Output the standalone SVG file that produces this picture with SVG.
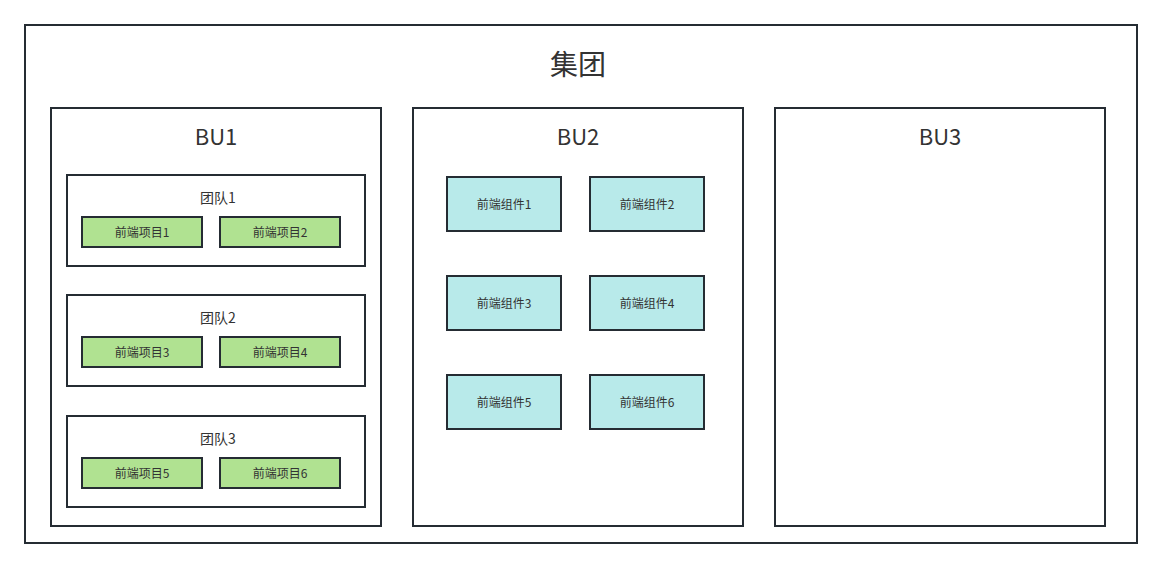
<svg xmlns="http://www.w3.org/2000/svg" width="1161" height="568" viewBox="0 0 1161 568">
<style>
.box{fill:#fff;stroke:#252c33;stroke-width:2}
.proj{fill:#b0e291;stroke:#252c33;stroke-width:2}
.comp{fill:#b8eaea;stroke:#252c33;stroke-width:2}
text{font-family:"Noto Sans CJK SC","Noto Sans",sans-serif;fill:#333;text-anchor:middle;dominant-baseline:central}
.t1{font-size:28px}
.t2{font-size:22px}
.t3{font-size:14px}
.t4{font-size:12px}
</style>
<rect width="1161" height="568" fill="#fff"/>
<g id="group">
<rect class="box" x="25" y="25" width="1112" height="518"/>
<text class="t1" x="578" y="63">集团</text>
</g>
<g id="bu1">
<rect class="box" x="51" y="108" width="330" height="418"/>
<text class="t2" x="216" y="135">BU1</text>
</g>
<g id="team1">
<rect class="box" x="67" y="175" width="298" height="91"/>
<text class="t3" x="218" y="197">团队1</text>
</g>
<g id="proj1"><rect class="proj" x="82" y="217" width="120" height="30"/><text class="t4" x="142" y="231">前端项目1</text></g>
<g id="proj2"><rect class="proj" x="220" y="217" width="120" height="30"/><text class="t4" x="280" y="231">前端项目2</text></g>
<g id="team2">
<rect class="box" x="67" y="295" width="298" height="91"/>
<text class="t3" x="218" y="317">团队2</text>
</g>
<g id="proj3"><rect class="proj" x="82" y="337" width="120" height="30"/><text class="t4" x="142" y="351">前端项目3</text></g>
<g id="proj4"><rect class="proj" x="220" y="337" width="120" height="30"/><text class="t4" x="280" y="351">前端项目4</text></g>
<g id="team3">
<rect class="box" x="67" y="416" width="298" height="91"/>
<text class="t3" x="218" y="438">团队3</text>
</g>
<g id="proj5"><rect class="proj" x="82" y="458" width="120" height="30"/><text class="t4" x="142" y="472">前端项目5</text></g>
<g id="proj6"><rect class="proj" x="220" y="458" width="120" height="30"/><text class="t4" x="280" y="472">前端项目6</text></g>
<g id="bu2">
<rect class="box" x="413" y="108" width="330" height="418"/>
<text class="t2" x="578" y="135">BU2</text>
</g>
<g id="comp1"><rect class="comp" x="447" y="177" width="114" height="54"/><text class="t4" x="504" y="203">前端组件1</text></g>
<g id="comp2"><rect class="comp" x="590" y="177" width="114" height="54"/><text class="t4" x="647" y="203">前端组件2</text></g>
<g id="comp3"><rect class="comp" x="447" y="276" width="114" height="54"/><text class="t4" x="504" y="302">前端组件3</text></g>
<g id="comp4"><rect class="comp" x="590" y="276" width="114" height="54"/><text class="t4" x="647" y="302">前端组件4</text></g>
<g id="comp5"><rect class="comp" x="447" y="375" width="114" height="54"/><text class="t4" x="504" y="401">前端组件5</text></g>
<g id="comp6"><rect class="comp" x="590" y="375" width="114" height="54"/><text class="t4" x="647" y="401">前端组件6</text></g>
<g id="bu3">
<rect class="box" x="775" y="108" width="330" height="418"/>
<text class="t2" x="940" y="135">BU3</text>
</g>
<g id="connectors"/>
</svg>
